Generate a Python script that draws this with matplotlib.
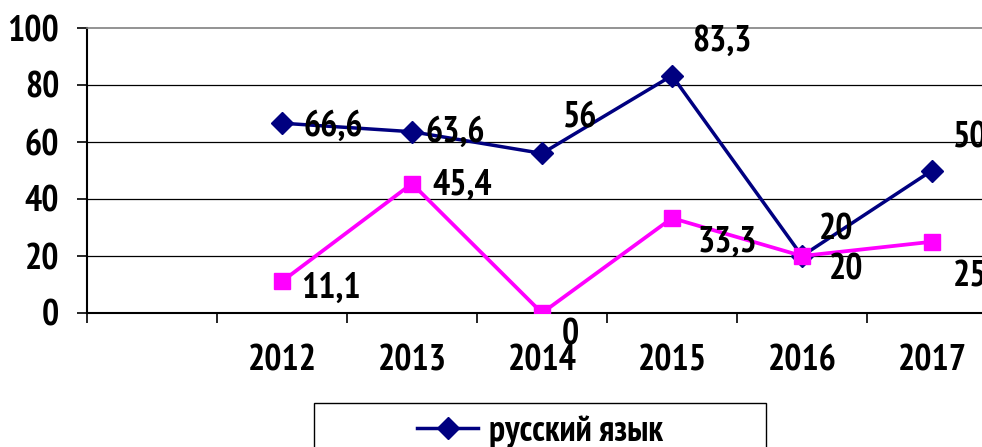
import matplotlib.pyplot as plt
from matplotlib.patches import Rectangle

years = ['', '2012', '2013', '2014', '2015', '2016', '2017']
russian = [66.6, 63.6, 56, 83.3, 20, 50]
math = [11.1, 45.4, 0, 33.3, 20, 25]
russian_txt = ['66,6', '63,6', '56', '83,3', '20', '50']
math_txt = ['11,1', '45,4', '0', '33,3', '20', '25']

# label offsets in pixels (dx, dy up)
russian_off = [(51, -3), (43, -1), (38, 36), (50, 34), (34, 26), (38, 33)]
math_off = [(49, -7), (50, -2), (28, -22), (55, -24), (44, -14), (38, -35)]

FONT = ['PT Sans Narrow', 'Roboto Condensed', 'DejaVu Sans']
plt.rcParams['font.family'] = FONT
plt.rcParams['font.weight'] = 'bold'
FS = 26

fig = plt.figure(figsize=(9.82, 4.47), dpi=100)
ax = fig.add_axes([87 / 982, 134 / 447, 910 / 982, 285 / 447])

x = list(range(1, len(years)))
ax.plot(x, russian, color='#000080', lw=2.5, marker='D', ms=11,
        label='русский язык', zorder=3)
ax.plot(x, math, color='#FF00FF', lw=2.7, marker='s', ms=11, zorder=3)

px = 72 / 100
for xi, v, t, (dx, dy) in zip(x, russian, russian_txt, russian_off):
    ax.annotate(t, (xi, v), xytext=(dx * px, dy * px), textcoords='offset points',
                ha='center', va='center', fontsize=FS, fontweight='bold',
                annotation_clip=False, zorder=4)
for xi, v, t, (dx, dy) in zip(x, math, math_txt, math_off):
    ax.annotate(t, (xi, v), xytext=(dx * px, dy * px), textcoords='offset points',
                ha='center', va='center', fontsize=FS, fontweight='bold',
                annotation_clip=False, zorder=4)

ax.set_xlim(-0.5, len(years) - 0.5)
ax.set_ylim(0, 100)
ax.set_yticks(range(0, 101, 20))
ax.set_xticks(range(len(years)))
ax.set_xticklabels(years)
ax.set_xticks([i - 0.5 for i in range(len(years) + 1)], minor=True)
ax.tick_params(axis='x', which='major', length=0, pad=23, labelsize=FS)
ax.tick_params(axis='x', which='minor', length=7, width=1.2, direction='out')
ax.tick_params(axis='y', length=7, width=1.2, pad=13, labelsize=FS)
for lab in ax.get_xticklabels() + ax.get_yticklabels():
    lab.set_fontweight('bold')

for yv in [20, 40, 60, 80]:
    ax.axhline(yv, color='black', lw=0.9, zorder=1)
ax.spines['top'].set_color('#808080')
ax.spines['top'].set_linewidth(1.2)
ax.spines['right'].set_visible(False)
ax.spines['left'].set_linewidth(1.5)
ax.spines['bottom'].set_linewidth(1.5)

# title, mostly cut off at the top edge
fig.text(401 / 982, 1 + 8 / 447, '(русский язык, математика)', ha='center',
         va='baseline', fontsize=24, fontweight='bold',
         family=['Liberation Serif', 'DejaVu Serif'])

leg = fig.legend(loc='center', bbox_to_anchor=(540 / 982, 1 - 431 / 447),
                 frameon=False, fontsize=FS, handlelength=1.7, handletextpad=0.3)
fig.patches.append(Rectangle((314 / 982, -80 / 447), 452 / 982, (80 + 44) / 447,
                             transform=fig.transFigure, fill=False,
                             edgecolor='black', lw=1.0))

fig.savefig('out.png', dpi=100)
